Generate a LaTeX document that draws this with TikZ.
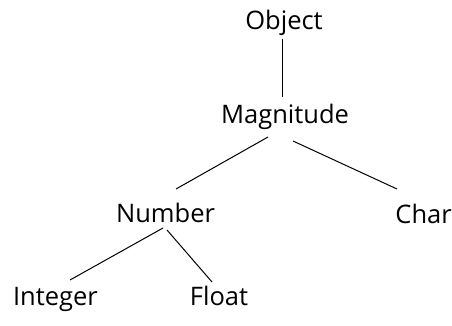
\documentclass[tikz,border=0pt]{standalone}
\usepackage{fontspec}
\setmainfont{Open Sans}
\usetikzlibrary{calc}
\begin{document}
\begin{tikzpicture}[x=1pt,y=-1pt,
  lbl/.style={inner sep=0pt,anchor=base,font=\fontsize{25.5}{30}\selectfont},
  edge/.style={line width=1pt}]
\useasboundingbox (0,0) rectangle (452,326);
\node[lbl] (obj) at (284,30) {Object};
\node[lbl] (mag) at (285,124) {Magnitude};
\node[lbl] (num) at (165.5,222) {Number};
\node[lbl,anchor=base east] (chr) at (452,223) {Char};
\node[lbl] (int) at (55.5,305) {Integer};
\node[lbl] (flt) at (219,305) {Float};
\draw[edge] ($(obj.base)+(-2,9)$) -- ($(mag.base)+(-3,-27)$);
\draw[edge] ($(mag.base)+(-17,13)$) -- ($(num.base)+(10.5,-33)$);
\draw[edge] ($(mag.base)+(8,17)$) -- ($(chr.base east)+(-55,-34)$);
\draw[edge] ($(num.base)+(-2.5,6)$) -- ($(int.base)+(14.5,-25)$);
\draw[edge] ($(num.base)+(1.5,8)$) -- ($(flt.base)+(-7,-23)$);
\end{tikzpicture}
\end{document}
